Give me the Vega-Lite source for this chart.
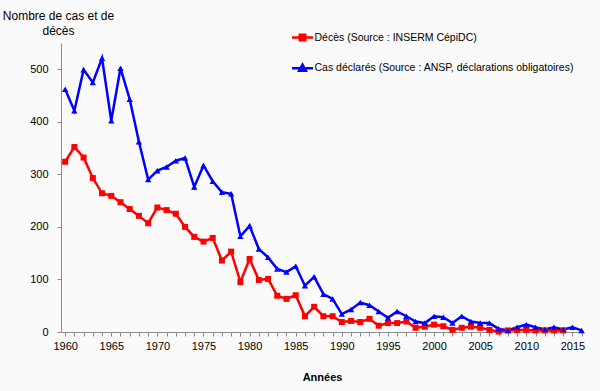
{
  "$schema": "https://vega.github.io/schema/vega-lite/v6.json",
  "width": 522,
  "height": 289,
  "autosize": "none",
  "padding": {"left": 61, "top": 43, "right": 17, "bottom": 59},
  "background": "#fafafa",
  "config": {
    "view": {"stroke": null},
    "font": "Liberation Sans",
    "axis": {"grid": false, "domainColor": "#8c8c8c", "tickColor": "#8c8c8c", "labelColor": "#000000", "titleColor": "#000000", "labelFont": "Liberation Sans", "titleFont": "Liberation Sans"}
  },
  "data": {
    "values": [
      {"annee": 1960, "deces": 324, "cas": 462},
      {"annee": 1961, "deces": 352, "cas": 421},
      {"annee": 1962, "deces": 332, "cas": 499},
      {"annee": 1963, "deces": 293, "cas": 475},
      {"annee": 1964, "deces": 264, "cas": 521},
      {"annee": 1965, "deces": 259, "cas": 402},
      {"annee": 1966, "deces": 247, "cas": 502},
      {"annee": 1967, "deces": 234, "cas": 443},
      {"annee": 1968, "deces": 221, "cas": 362},
      {"annee": 1969, "deces": 207, "cas": 290},
      {"annee": 1970, "deces": 237, "cas": 307},
      {"annee": 1971, "deces": 232, "cas": 314},
      {"annee": 1972, "deces": 225, "cas": 326},
      {"annee": 1973, "deces": 200, "cas": 331},
      {"annee": 1974, "deces": 181, "cas": 276},
      {"annee": 1975, "deces": 172, "cas": 317},
      {"annee": 1976, "deces": 179, "cas": 287},
      {"annee": 1977, "deces": 136, "cas": 266},
      {"annee": 1978, "deces": 153, "cas": 263},
      {"annee": 1979, "deces": 95, "cas": 182},
      {"annee": 1980, "deces": 139, "cas": 202},
      {"annee": 1981, "deces": 99, "cas": 158},
      {"annee": 1982, "deces": 101, "cas": 142},
      {"annee": 1983, "deces": 69, "cas": 120},
      {"annee": 1984, "deces": 63, "cas": 114},
      {"annee": 1985, "deces": 70, "cas": 125},
      {"annee": 1986, "deces": 30, "cas": 88},
      {"annee": 1987, "deces": 48, "cas": 105},
      {"annee": 1988, "deces": 30, "cas": 72},
      {"annee": 1989, "deces": 30, "cas": 63},
      {"annee": 1990, "deces": 19, "cas": 34},
      {"annee": 1991, "deces": 21, "cas": 43},
      {"annee": 1992, "deces": 19, "cas": 56},
      {"annee": 1993, "deces": 25, "cas": 51},
      {"annee": 1994, "deces": 12, "cas": 39},
      {"annee": 1995, "deces": 17, "cas": 27},
      {"annee": 1996, "deces": 17, "cas": 39},
      {"annee": 1997, "deces": 20, "cas": 30},
      {"annee": 1998, "deces": 8, "cas": 20},
      {"annee": 1999, "deces": 10, "cas": 17},
      {"annee": 2000, "deces": 14, "cas": 30},
      {"annee": 2001, "deces": 11, "cas": 28},
      {"annee": 2002, "deces": 4, "cas": 17},
      {"annee": 2003, "deces": 8, "cas": 30},
      {"annee": 2004, "deces": 10, "cas": 20},
      {"annee": 2005, "deces": 8, "cas": 17},
      {"annee": 2006, "deces": 4, "cas": 17},
      {"annee": 2007, "deces": 1, "cas": 6},
      {"annee": 2008, "deces": 3, "cas": 3},
      {"annee": 2009, "deces": 4, "cas": 9},
      {"annee": 2010, "deces": 4, "cas": 14},
      {"annee": 2011, "deces": 3, "cas": 9},
      {"annee": 2012, "deces": 3, "cas": 5},
      {"annee": 2013, "deces": 3, "cas": 9},
      {"annee": 2014, "deces": 3, "cas": 5},
      {"annee": 2015, "deces": null, "cas": 9},
      {"annee": 2016, "deces": null, "cas": 3}
    ]
  },
  "transform": [
    {"fold": ["deces", "cas"], "as": ["serie", "nombre"]},
    {"filter": "datum.nombre != null"}
  ],
  "encoding": {
    "x": {
      "field": "annee",
      "type": "quantitative",
      "scale": {"domain": [1959.55, 2016.15], "nice": false, "zero": false},
      "axis": {
        "title": "Années",
        "titleFontSize": 11,
        "titleFontWeight": "bold",
        "titleY": 45,
        "titleBaseline": "middle",
        "values": [1960, 1960.5, 1961, 1961.5, 1962, 1962.5, 1963, 1963.5, 1964, 1964.5, 1965, 1965.5, 1966, 1966.5, 1967, 1967.5, 1968, 1968.5, 1969, 1969.5, 1970, 1970.5, 1971, 1971.5, 1972, 1972.5, 1973, 1973.5, 1974, 1974.5, 1975, 1975.5, 1976, 1976.5, 1977, 1977.5, 1978, 1978.5, 1979, 1979.5, 1980, 1980.5, 1981, 1981.5, 1982, 1982.5, 1983, 1983.5, 1984, 1984.5, 1985, 1985.5, 1986, 1986.5, 1987, 1987.5, 1988, 1988.5, 1989, 1989.5, 1990, 1990.5, 1991, 1991.5, 1992, 1992.5, 1993, 1993.5, 1994, 1994.5, 1995, 1995.5, 1996, 1996.5, 1997, 1997.5, 1998, 1998.5, 1999, 1999.5, 2000, 2000.5, 2001, 2001.5, 2002, 2002.5, 2003, 2003.5, 2004, 2004.5, 2005, 2005.5, 2006, 2006.5, 2007, 2007.5, 2008, 2008.5, 2009, 2009.5, 2010, 2010.5, 2011, 2011.5, 2012, 2012.5, 2013, 2013.5, 2014, 2014.5, 2015, 2015.5, 2016],
        "format": "d",
        "labelExpr": "datum.value % 5 === 0 ? datum.label : ''",
        "labelFontSize": 11,
        "labelPadding": 4,
        "tickSize": 4,
        "labelOverlap": false,
        "labelFlush": false
      }
    },
    "y": {
      "field": "nombre",
      "type": "quantitative",
      "scale": {"domain": [0, 550], "nice": false},
      "axis": {
        "title": ["Nombre de cas et de", "décès"],
        "titleAngle": 0,
        "titleAlign": "center",
        "titleBaseline": "top",
        "titleX": -3,
        "titleY": -33,
        "titleFontSize": 12,
        "titleFontWeight": "normal",
        "titleLineHeight": 15.5,
        "values": [0, 100, 200, 300, 400, 500],
        "labelFontSize": 11,
        "labelPadding": 9,
        "tickSize": 4
      }
    },
    "color": {
      "field": "serie",
      "type": "nominal",
      "scale": {"domain": ["deces", "cas"], "range": ["#ff0000", "#0000ff"]},
      "legend": {
        "orient": "none",
        "legendX": 234,
        "legendY": -13,
        "title": null,
        "padding": 0,
        "rowPadding": 12.8,
        "symbolSize": 144,
        "symbolStrokeWidth": 2.5,
        "labelOffset": 4.5,
        "labelFontSize": 10.5,
        "labelLimit": 500,
        "labelFont": "Liberation Sans",
        "labelColor": "#000000",
        "labelExpr": "datum.value === 'deces' ? 'Décès (Source : INSERM CépiDC)' : 'Cas déclarés (Source : ANSP, déclarations obligatoires)'",
        "encode": {
          "symbols": {
            "update": {
              "shape": {"signal": "datum.value === 'deces' ? 'M-1.75,0H1.75M-0.45,-0.45H0.45V0.45H-0.45Z' : 'M-1.75,0H1.75M0,-0.6L0.55,0.4H-0.55Z'"},
              "stroke": {"scale": "color", "field": "value"},
              "fill": {"scale": "color", "field": "value"},
              "strokeWidth": {"value": 2.5},
              "opacity": {"value": 1}
            }
          }
        }
      }
    }
  },
  "layer": [
    {"mark": {"type": "line", "strokeWidth": 2.5}},
    {
      "transform": [{"filter": "datum.serie === 'deces'"}],
      "mark": {"type": "point", "filled": true, "opacity": 1, "shape": "square", "size": 36}
    },
    {
      "transform": [{"filter": "datum.serie === 'cas'"}],
      "mark": {"type": "point", "filled": true, "opacity": 1, "shape": "triangle-up", "size": 40}
    }
  ]
}
